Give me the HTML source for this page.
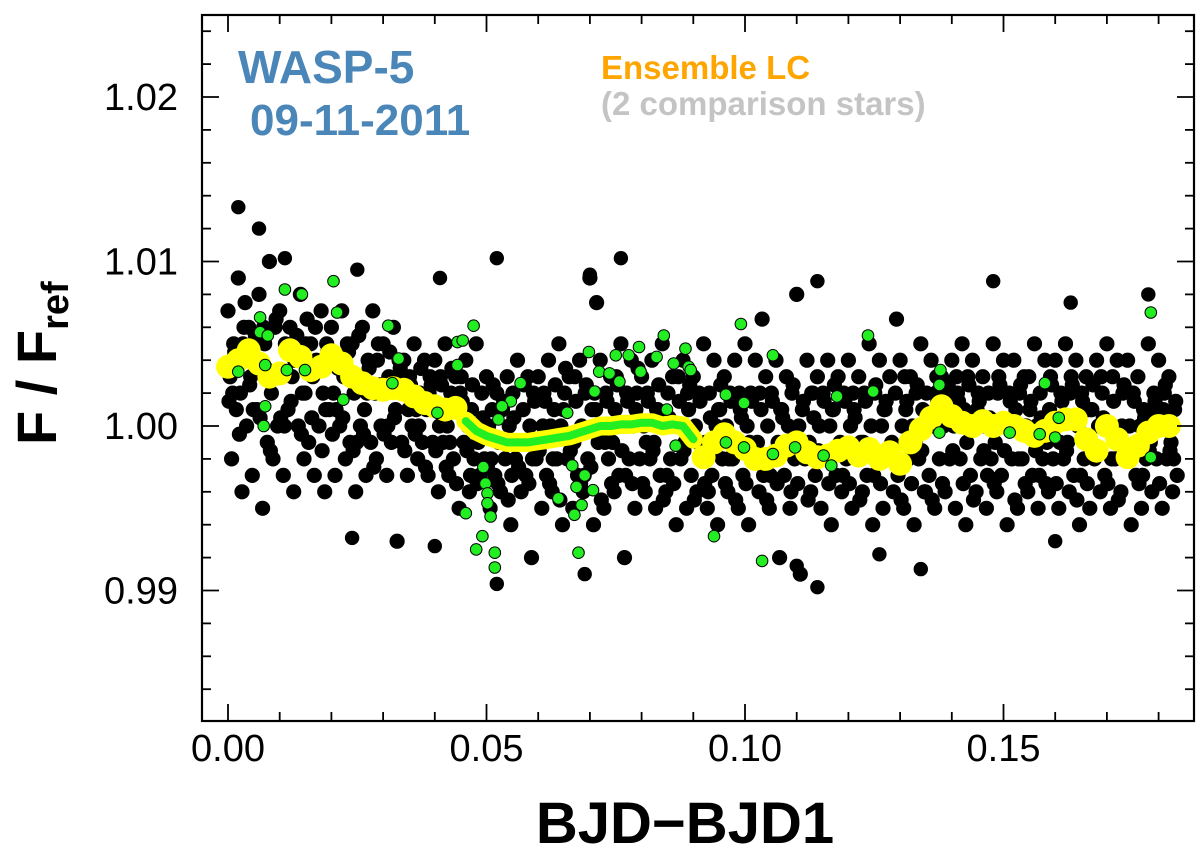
<!DOCTYPE html>
<html><head><meta charset="utf-8"><title>WASP-5 light curve</title>
<style>
html,body{margin:0;padding:0;background:#fff;}
svg{display:block;}
text{font-family:"Liberation Sans",Arial,sans-serif;}
</style></head>
<body>
<svg id="chart" width="1200" height="851" viewBox="0 0 1200 851" xmlns="http://www.w3.org/2000/svg">
  <rect x="0" y="0" width="1200" height="851" fill="#fff"/>
  <g id="marks"></g>
  <g id="axes"></g>
  <text x="238" y="83" font-size="46" font-weight="bold" fill="#4a86b8">WASP-5</text>
  <text x="250" y="135" font-size="44" font-weight="bold" fill="#4a86b8">09-11-2011</text>
  <text x="601" y="79" font-size="33" font-weight="bold" fill="#ffa500">Ensemble LC</text>
  <text x="601" y="115" font-size="33" font-weight="bold" fill="#c4c4c4">(2 comparison stars)</text>
  <text x="685" y="843" font-size="58" font-weight="bold" text-anchor="middle" fill="#000">BJD−BJD1</text>
  <text transform="translate(56,445) rotate(-90)" font-size="56" font-weight="bold" fill="#000">F / F<tspan font-size="38" dy="12">ref</tspan></text>
</svg>
<script>
// ---- data (flux deviations in parts-per-thousand from 1.0) ----
const times = [0.000,0.002,0.004,0.006,0.008,0.010,0.012,0.014,0.016,0.018,
0.020,0.022,0.024,0.026,0.028,0.030,0.032,0.034,0.036,0.038,
0.040,0.042,0.044,0.046,0.048,0.050,0.052,0.054,0.056,0.058,
0.060,0.062,0.064,0.066,0.068,0.070,0.072,0.074,0.076,0.078,
0.080,0.082,0.084,0.086,0.088,0.090,0.092,0.094,0.096,0.098,
0.100,0.102,0.104,0.106,0.108,0.110,0.112,0.114,0.116,0.118,
0.120,0.122,0.124,0.126,0.128,0.130,0.132,0.134,0.136,0.138,
0.140,0.142,0.144,0.146,0.148,0.150,0.152,0.154,0.156,0.158,
0.160,0.162,0.164,0.166,0.168,0.170,0.172,0.174,0.176,0.178,
0.180,0.182];
const fluxS1 = [7,9,6,8,10,7,6,8,5,7, 6,7,5,6,7,5,6,4,5,4, 4,5,3,4,5,3,2,3,4,3, 3,4,5,3,4,9,4,3,5,4, 3,4,5,3,4,3,5,4,3,4, 5,4,3,4,3,8,4,3,4,3, 4,3,5,4,3,4,3,5,4,3, 4,5,4,3,5,4,4,3,5,4, 4,5,4,3,4,5,4,4,3,5, 4,3];
const fluxS2 = [5,6,4,5,6,5,4,5,4,5, 4,5,3,4,5,3,4,3,2,3, 3,2,3,1,2,1,1,2,1,2, 2,1,2,3,2,1,2,3,2,2, 2,1,2,3,1,2,2,1,2,1, 2,1,2,1,2,1,2,2,1,2, 1,2,2,1,2,1,2,2,3,2, 2,3,2,2,3,2,2,1,2,3, 2,3,2,1,2,3,2,2,1,2, 2,1];
const fluxS3 = [3,2,3,4,2,3,3,2,3,2, 2,3,2,1,2,2,1,2,1,1, 1,0,1,0,-1,0,-1,0,-1,0, -1,0,0,-1,0,1,0,-1,0,0, 0,-1,0,0,-1,0,-1,0,0,-1, 0,-1,0,-1,0,0,-1,0,0,-1, 0,-1,0,0,-1,0,0,1,0,0, 0,1,0,0,-1,0,1,0,0,-1, 0,-1,0,1,0,0,-1,0,0,-1, 0,-1];
const fluxS4 = [1,0,1,-1,0,1,0,-1,0,1, 0,-1,0,-1,0,-1,-1,0,-1,-1, -1,-2,-1,-2,-2,-3,-2,-2,-3,-2, -3,-2,-2,-3,-2,-1,-2,-3,-2,-2, -2,-3,-2,-2,-3,-2,-3,-2,-2,-3, -2,-3,-2,-3,-2,-2,-3,-2,-3,-2, -2,-3,-2,-2,-3,-2,-2,-3,-2,-2, -2,-3,-2,-2,-3,-2,-2,-3,-2,-2, -2,-3,-2,-2,-3,-2,-2,-3,-2,-2, -2,-3];
const fluxS5 = [-2,-4,-3,-5,-2,-3,-4,-2,-3,-4, -3,-2,-4,-3,-2,-3,-7,-3,-2,-3, -4,-3,-5,-4,-3,-5,-4,-6,-4,-8, -5,-4,-6,-5,-4,-6,-5,-4,-8,-5, -4,-5,-4,-6,-5,-4,-5,-6,-4,-5, -6,-4,-5,-8,-5,-9,-4,-5,-6,-4, -5,-4,-6,-5,-4,-5,-6,-4,-5,-4, -5,-6,-4,-5,-4,-6,-5,-4,-5,-4, -5,-4,-6,-5,-4,-5,-4,-6,-5,-4, -5,-4];
const fluxS6 = [4.5,7.5,5.5,3.5,6.5,4.5,5.5,6.5,3.5,4.5, 3.5,4.5,5.5,3.5,2.5,4.5,3.5,2.5,3.5,2.5, 2.5,3.5,1.5,2.5,0.5,2.5,1.5,0.5,2.5,1.5, 1.5,2.5,3.5,1.5,2.5,7.5,1.5,2.5,1.5,3.5, 1.5,2.5,0.5,1.5,2.5,1.5,0.5,2.5,1.5,0.5, 1.5,6.5,1.5,0.5,2.5,1.5,0.5,1.5,2.5,1.5, 0.5,1.5,2.5,1.5,6.5,1.5,2.5,0.5,1.5,2.5, 1.5,2.5,1.5,0.5,2.5,1.5,2.5,1.5,0.5,2.5, 1.5,2.5,1.5,2.5,0.5,1.5,2.5,1.5,0.5,1.5, 2.5,1.5];
const fluxS7 = [1.5,-0.5,2.5,0.5,-1.5,0.5,1.5,-0.5,0.5,-1.5, -0.5,0.5,-1.5,-0.5,-2.5,-0.5,0.5,-1.5,-0.5,-2.5, -1.5,-2.5,-3.5,-1.5,-3.5,-2.5,-3.5,-4.5,-2.5,-3.5, -1.5,-3.5,-4.5,-1.5,-3.5,-2.5,-4.5,-3.5,-1.5,-3.5, -3.5,-1.5,-4.5,-3.5,-1.5,-4.5,-3.5,-1.5,-3.5,-4.5, -3.5,-1.5,-4.5,-3.5,-1.5,-3.5,-4.5,-1.5,-3.5,-1.5, -3.5,-4.5,-1.5,-3.5,-1.5,-4.5,-3.5,-1.5,-4.5,-3.5, -1.5,-3.5,-4.5,-1.5,-3.5,-1.5,-4.5,-3.5,-1.5,-3.5, -3.5,-1.5,-4.5,-3.5,-1.5,-3.5,-4.5,-1.5,-3.5,-1.5, -3.5,-1.5];
const fluxS8 = [2,5,1,6,3,0,4,2,6,1, 1,3,-1,2,4,0,3,1,0,2, 0,-1,2,-3,0,-2,1,-3,-1,-2, 0,-2,1,-1,-3,2,-1,1,-3,1, -1,1,-3,0,2,-1,-4,1,-2,2, -1,2,-3,1,-4,-1,2,-2,1,-3, 2,-1,-3,1,-2,3,-1,-4,2,1, 3,-1,1,-3,2,0,-2,3,-3,1, -1,2,-3,1,3,-2,0,2,-3,1, 1,-2];
const seriesTimeShift = [0,0.0011,0.0004,0.0016,0.0007,0.0013,0.0002,0.0009];
const outlierTimes = [0.002,0.006,0.011,0.025,0.041,0.052,0.070,0.076,0.114,0.148,0.163,0.178,0.024,0.040,0.052,0.069,0.114,0.110,0.134,0.126,0.160];
const outlierFlux  = [13.3,12,10.2,9.5,9,10.2,9.2,10.2,8.8,8.8,7.5,8,-6.8,-7.3,-9.6,-9.0,-9.8,-8.5,-8.7,-7.8,-7];
const ensembleFlux = [3.6,4.0,4.6,3.8,3.0,3.2,4.6,4.2,3.4,3.6, 4.3,3.8,3.0,2.6,2.3,2.2,2.3,2.2,1.8,1.4, 1.2,1.0,1.1,0.3,-0.3,-0.6,-0.8,-1.0,-1.0,-1.0, -0.9,-0.8,-0.7,-0.6,-0.4,-0.2,0.0,0.0,0.1,0.1, 0.2,0.2,0.0,0.1,0.0,-0.8,-1.9,-1.0,-0.5,-1.0, -1.4,-2.0,-2.0,-1.8,-1.2,-1.0,-1.6,-1.9,-1.8,-1.5, -1.3,-1.8,-1.4,-2.0,-1.6,-2.3,-1.0,-0.2,0.5,1.2, 0.6,0.2,0.0,0.3,0.0,0.2,0.0,-0.3,-0.6,-0.3, 0.2,0.4,0.4,-0.8,-1.5,0.0,-0.8,-1.9,-1.2,-0.4, 0.0,0.0];
const smoothStart = 0.046, smoothEnd = 0.090;
const greenTimes = [0.011,0.0143,0.0204,0.0211,0.0062,0.0062,0.0077,0.031,0.033,0.002,0.0072,0.0114,0.0149,0.0318,0.0223,0.0072,0.0069,0.0444,0.0454,0.0475,0.0444,0.0405,0.0566,0.0547,0.053,0.0523,0.0494,0.0498,0.0502,0.0502,0.0508,0.046,0.0492,0.048,0.0516,0.0516,0.0656,0.0666,0.069,0.0674,0.0706,0.0639,0.0684,0.067,0.0678,0.0698,0.0718,0.0738,0.075,0.0757,0.0709,0.0775,0.0795,0.0798,0.0829,0.0843,0.0849,0.0862,0.0885,0.0891,0.0866,0.0895,0.0992,0.1054,0.0963,0.0998,0.0963,0.0998,0.1054,0.1097,0.1152,0.1167,0.1178,0.1238,0.1248,0.1378,0.1376,0.1376,0.1512,0.157,0.16,0.158,0.1607,0.1785,0.1785,0.094,0.1033];
const greenFlux  = [8.3,8.0,8.8,6.9,6.6,5.7,5.5,6.1,4.1,3.3,3.7,3.4,3.4,2.6,1.6,1.2,0.0,5.1,5.2,6.1,3.7,0.8,2.6,1.5,1.2,0.4,-2.5,-3.5,-4.1,-4.7,-5.5,-5.3,-6.7,-7.5,-7.7,-8.6,0.8,-2.4,-3.0,-3.7,-3.9,-4.4,-4.8,-5.4,-7.7,4.5,3.3,3.2,4.3,2.7,2.1,4.3,4.8,3.3,4.2,5.5,1.0,3.8,4.7,3.6,-1.2,3.4,6.2,4.3,-1.0,-1.3,1.9,1.4,-1.7,-1.3,-1.8,-2.4,1.8,5.5,2.1,3.4,2.5,-0.4,-0.4,-0.5,-0.7,2.6,0.5,6.9,-1.9,-6.7,-8.2];
const xTickLabels = ["0.00","0.05","0.10","0.15"];
const xTickValues = [0,0.05,0.10,0.15];
const yTickLabels = ["0.99","1.00","1.01","1.02"];
const yTickValues = [0.99,1.00,1.01,1.02];

// ---- scales ----
const PL=202, PR=1194, PT=15, PB=721;
function xScale(t){ return 228 + t*5170; }
function yScale(f){ return 426 - (f-1.0)*16450; }
function yPPT(p){ return yScale(1 + p/1000); }

const NS="http://www.w3.org/2000/svg";
const marks=document.getElementById('marks');
const axes=document.getElementById('axes');
function mk(tag, attrs, parent){ const e=document.createElementNS(NS,tag); for(const k in attrs) e.setAttribute(k,attrs[k]); parent.appendChild(e); return e; }

const blackG = mk('g',{},marks);


const allSeries=[fluxS1,fluxS2,fluxS3,fluxS4,fluxS5,fluxS6,fluxS7,fluxS8];
allSeries.forEach((s,k)=>{
  s.forEach((v,i)=>{
    const c = mk('circle',{cx:xScale(times[i]+seriesTimeShift[k]).toFixed(1), cy:yPPT(v).toFixed(1), r:7.6, fill:'#000'}, blackG);
    
    
  });
});
outlierTimes.forEach((t,i)=>{
  const c = mk('circle',{cx:xScale(t).toFixed(1), cy:yPPT(outlierFlux[i]).toFixed(1), r:7.2, fill:'#000'}, blackG);
  
  
});

const yelG = mk('g',{},marks);


ensembleFlux.forEach((v,i)=>{
  const inSmooth = times[i]>=smoothStart && times[i]<=smoothEnd;
  const c = mk('circle',{cx:xScale(times[i]).toFixed(1), cy:yPPT(v).toFixed(1), r: inSmooth?9:12, fill:'#ffff00'}, yelG);
  
  
});
let dY='';
ensembleFlux.forEach((v,i)=>{
  if(times[i]>=smoothStart && times[i]<=smoothEnd){
    const cmd = dY===''?'M':'L';
    dY += cmd+xScale(times[i]).toFixed(1)+' '+yPPT(v).toFixed(1)+' ';
  }
});
const ly = mk('path',{d:dY, stroke:'#ffff00', 'stroke-width':19, fill:'none','stroke-linejoin':'round','stroke-linecap':'round'}, yelG);


const lg = mk('path',{d:dY, stroke:'#22ee22', 'stroke-width':8, fill:'none','stroke-linejoin':'round','stroke-linecap':'round'}, yelG);



const greenG = mk('g',{},marks);


greenTimes.forEach((t,i)=>{
  const c = mk('circle',{cx:xScale(t).toFixed(1), cy:yPPT(greenFlux[i]).toFixed(1), r:5.8, fill:'#22ee22', stroke:'#000','stroke-width':1}, greenG);
  
  
});

// ---- axes ----
const frame = mk('rect',{x:PL,y:PT,width:PR-PL,height:PB-PT,fill:'none',stroke:'#000','stroke-width':2.2},axes);


for(let k=0;k<=18;k++){
  const x=xScale(k*0.01); const major=(k%5===0); const L=major?17:9;
  const t1=mk('line',{x1:x,y1:PB,x2:x,y2:PB-L,stroke:'#000','stroke-width':1.8},axes);
  
  
  const t2=mk('line',{x1:x,y1:PT,x2:x,y2:PT+L,stroke:'#000','stroke-width':1.8},axes);
  
  
}
xTickValues.forEach((v,i)=>{
  const t=mk('text',{x:xScale(v),y:761,'font-size':38,'text-anchor':'middle',fill:'#000'},axes);
  t.textContent=xTickLabels[i];
  
  
});
for(let k=-9;k<=12;k++){
  const f=1+k*0.002; const y=yScale(f);
  if(y<PT+1||y>PB-1) continue;
  const major=(k%5===0); const L=major?17:9;
  const a=mk('line',{x1:PL,y1:y,x2:PL+L,y2:y,stroke:'#000','stroke-width':1.8},axes);
  
  
  const b=mk('line',{x1:PR,y1:y,x2:PR-L,y2:y,stroke:'#000','stroke-width':1.8},axes);
  
  
}
yTickValues.forEach((v,i)=>{
  const t=mk('text',{x:178,y:yScale(v)+13,'font-size':38,'text-anchor':'end',fill:'#000'},axes);
  t.textContent=yTickLabels[i];
  
  
});
</script>
</body></html>
